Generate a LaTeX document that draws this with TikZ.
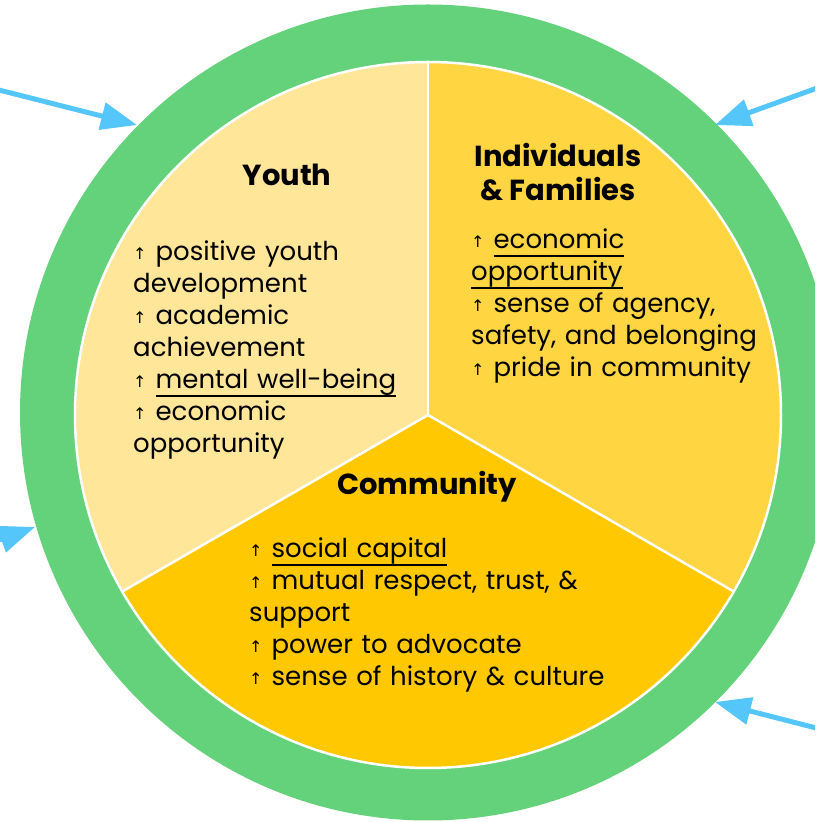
\documentclass[tikz,border=0pt]{standalone}
\usepackage{fontspec}
\setmainfont{Poppins}
\newfontfamily\arrowfont{DejaVu Sans}
\usetikzlibrary{arrows.meta,calc}
\definecolor{ringgreen}{HTML}{64D27A}
\definecolor{youthc}{HTML}{FFE699}
\definecolor{indivc}{HTML}{FFD541}
\definecolor{commc}{HTML}{FFC800}
\definecolor{arrowblue}{HTML}{55C6F9}
\newcommand\upar{\raisebox{1pt}{\arrowfont\fontsize{16}{16}\selectfont ↑}\hspace{9pt}}
\newcommand\myul[1]{\setbox0\hbox{#1}\leavevmode\rlap{\rule[-8pt]{\wd0}{2.4pt}}\box0}
\tikzset{
  body/.style={anchor=base west, inner sep=0pt, text width=360pt, align=left,
    font=\fontsize{26}{32}\selectfont},
  title/.style={anchor=base, inner sep=0pt, align=center,
    font=\bfseries\fontsize{29}{34}\selectfont},
  inarrow/.style={draw=arrowblue, line width=5pt,
    -{Triangle[length=36pt,width=27pt]}},
  divider/.style={draw=white, line width=2.5pt}
}
\begin{document}
\begin{tikzpicture}[x=1pt,y=1pt]
\useasboundingbox (0,0) rectangle (815,822);
\clip (0,0) rectangle (815,822);
% ring
\fill[ringgreen] (428,409.5) circle (408);
% pie
\coordinate (C) at (428,407);
\fill[youthc] (C) -- ++(90:353) arc (90:210:353) -- cycle;
\fill[indivc] (C) -- ++(-30:353) arc (-30:90:353) -- cycle;
\fill[commc] (C) -- ++(210:353) arc (210:330:353) -- cycle;
\draw[divider] (C) circle (353);
\draw[divider] (C) -- ++(90:353);
\draw[divider] (C) -- ++(210:353);
\draw[divider] (C) -- ++(330:353);
% titles
\node[title] (ty) at (287,636) {Youth};
\node[title] (ti) at (558,621) {Individuals\\\& Families};
\node[title] (tc) at (427,327) {Community};
% bodies
\node[body] (by) at (133,561) {\upar positive youth\\development\\\upar academic\\achievement\\\upar\myul{mental well-being}\\\upar economic\\opportunity};
\node[body] (bi) at (471,573) {\upar\myul{economic}\\\myul{opportunity}\\\upar sense of agency,\\safety, and belonging\\\upar pride in community};
\node[body] (bc) at (249,264) {\upar\myul{social capital}\\\upar mutual respect, trust, \&\\support\\\upar power to advocate\\\upar sense of history \& culture};
% arrows
\coordinate (a1s) at (-5,733);
\coordinate (a1t) at (137,697);
\coordinate (a2s) at (820,735);
\coordinate (a2t) at (715,697);
\coordinate (a3s) at (-59,261);
\coordinate (a3t) at (35,295);
\coordinate (a4s) at (820,93);
\coordinate (a4t) at (715,120);
\draw[inarrow] (a1s) -- (a1t);
\draw[inarrow] (a2s) -- (a2t);
\draw[inarrow] (a3s) -- (a3t);
\draw[inarrow] (a4s) -- (a4t);
\end{tikzpicture}
\end{document}
